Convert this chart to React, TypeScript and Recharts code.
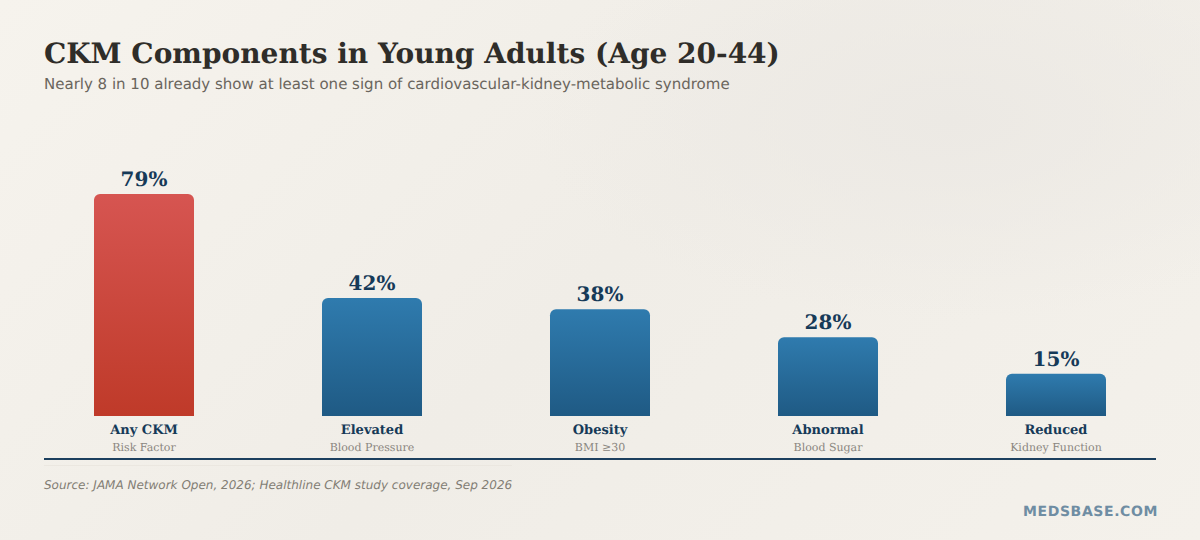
import React from 'react';
import { BarChart, Bar, XAxis, YAxis, Cell, LabelList } from 'recharts';

const categories = ['Any CKM', 'Elevated', 'Obesity', 'Abnormal', 'Reduced'];
const subLabels = ['Risk Factor', 'Blood Pressure', 'BMI ≥30', 'Blood Sugar', 'Kidney Function'];
const values = [79, 42, 38, 28, 15];
const gradientIds = ['redBar', 'blueBar', 'blueBar', 'blueBar', 'blueBar'];

const chartData = categories.map((name, i) => ({ name, sub: subLabels[i], value: values[i] }));

const SERIF = '"DejaVu Serif", serif';
const SANS = '"DejaVu Sans", sans-serif';
const NAVY = '#163a58';

const CategoryTick = ({ x, y, payload, index }: any) => (
  <g style={{ textRendering: 'geometricPrecision' }}>
    <text x={x} y={y + 10} textAnchor="middle" fontFamily={SERIF} fontWeight={700} fontSize={13} fill={NAVY}>
      {payload.value}
    </text>
    <text x={x} y={y + 27} textAnchor="middle" fontFamily={SERIF} fontSize={11} fill="#8a8680">
      {subLabels[index]}
    </text>
  </g>
);

const abs = (style: React.CSSProperties): React.CSSProperties => ({
  position: 'absolute',
  whiteSpace: 'nowrap',
  lineHeight: 1,
  textRendering: 'geometricPrecision',
  ...style,
});

export default function App() {
  return (
    <div
      style={{
        position: 'fixed',
        left: 0,
        top: 0,
        width: 1200,
        height: 540,
        overflow: 'hidden',
        background:
          'radial-gradient(ellipse 420px 200px at 950px 120px, #ecE9e4 0%, rgba(236,233,228,0) 100%), linear-gradient(135deg, #f6f3ed 0%, #f0ede7 50%, #f4f1eb 100%)',
      }}
    >
      <div style={abs({ left: 44, top: 40, fontFamily: SERIF, fontWeight: 700, fontSize: 28, color: '#2f2d29' })}>
        CKM Components in Young Adults (Age 20-44)
      </div>
      <div style={abs({ left: 44, top: 77, fontFamily: SANS, fontSize: 15, color: '#6a655d' })}>
        Nearly 8 in 10 already show at least one sign of cardiovascular-kidney-metabolic syndrome
      </div>

      <div style={{ position: 'absolute', left: 0, top: 0 }}>
        <BarChart
          width={1200}
          height={540}
          data={chartData}
          margin={{ top: 135, right: 30, bottom: 0, left: 30 }}
        >
          <defs>
            <linearGradient id="redBar" x1="0" y1="0" x2="0" y2="1">
              <stop offset="0%" stopColor="#d65551" />
              <stop offset="100%" stopColor="#bf3a29" />
            </linearGradient>
            <linearGradient id="blueBar" x1="0" y1="0" x2="0" y2="1">
              <stop offset="0%" stopColor="#2f7bae" />
              <stop offset="100%" stopColor="#1f5a84" />
            </linearGradient>
          </defs>
          <XAxis dataKey="name" height={124} axisLine={false} tickLine={false} interval={0} tick={<CategoryTick />} />
          <YAxis hide domain={[0, 100]} />
          <Bar dataKey="value" barSize={100} radius={[6, 6, 0, 0]} isAnimationActive={false}>
            {chartData.map((entry, i) => (
              <Cell key={entry.name} fill={`url(#${gradientIds[i]})`} />
            ))}
            <LabelList
              dataKey="value"
              position="top"
              offset={8}
              formatter={(v: any) => `${v}%`}
              style={{ fontFamily: SERIF, fontWeight: 700, fontSize: 20, fill: NAVY, textRendering: 'geometricPrecision' }}
            />
          </Bar>
        </BarChart>
      </div>

      <div style={{ position: 'absolute', left: 44, top: 458, width: 1112, height: 2, background: '#1c3f5e' }} />
      <div style={{ position: 'absolute', left: 44, top: 465, width: 468, height: 1, background: '#ebe7e0' }} />
      <div style={abs({ left: 44, top: 479, fontFamily: SANS, fontStyle: 'italic', fontSize: 12, color: '#827d74' })}>
        Source: JAMA Network Open, 2026; Healthline CKM study coverage, Sep 2026
      </div>
      <div
        style={abs({
          right: 42,
          top: 505,
          fontFamily: SANS,
          fontWeight: 700,
          fontSize: 14,
          letterSpacing: 0.6,
          color: '#6f8da3',
        })}
      >
        MEDSBASE.COM
      </div>
    </div>
  );
}
